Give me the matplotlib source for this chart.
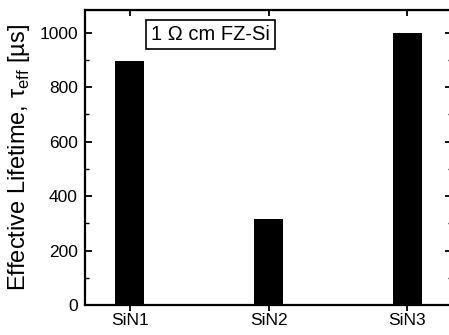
import matplotlib.pyplot as plt
from matplotlib.ticker import MultipleLocator

plt.rcParams['font.family'] = ['Liberation Sans', 'DejaVu Sans']

# sample names and measured effective lifetimes (us)
samples = ['SiN1', 'SiN2', 'SiN3']
lifetime = [897, 315, 1000]
positions = [1, 2, 3]

fig = plt.figure(figsize=(4.49, 3.35), dpi=100)
# right spine sits just past the image edge, as in the scanned original
ax = fig.add_axes([0.189, 0.0896, 0.817, 0.8804])

ax.bar(positions, lifetime, width=0.21, color='black')

ax.set_xlim(0.675, 3.32)
ax.set_ylim(0, 1083)
ax.set_xticks(positions)
ax.set_xticklabels(samples, fontsize=12.5)
ax.yaxis.set_major_locator(MultipleLocator(200))
ax.yaxis.set_minor_locator(MultipleLocator(100))
ax.tick_params(axis='y', which='both', direction='in', right=True, labelsize=12.5)
ax.tick_params(axis='y', which='major', length=5, width=1.3, pad=5)
ax.tick_params(axis='y', which='minor', length=3, width=1)
ax.tick_params(axis='x', direction='out', length=4, width=1.3, pad=2)

# top ticks point inward
top = ax.secondary_xaxis('top')
top.set_xticks(positions)
top.set_xticklabels([])
top.tick_params(direction='in', length=4, width=1.3)

for s in ax.spines.values():
    s.set_linewidth(1.6)

ax.set_ylabel('Effective Lifetime, τ$_{\\mathregular{eff}}$ [µs]', fontsize=17, labelpad=5)

ax.text(0.3425, 0.917, '1 Ω cm FZ-Si', transform=ax.transAxes, fontsize=14.5,
        ha='center', va='center',
        bbox=dict(boxstyle='square,pad=0.25', facecolor='white', edgecolor='black', linewidth=1.2))

fig.savefig('out.png', dpi=100)
